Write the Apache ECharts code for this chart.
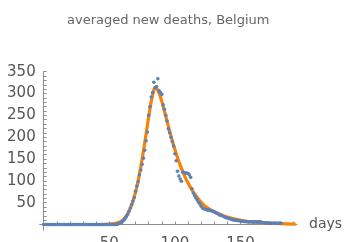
<!DOCTYPE html>
<html>
<head>
<meta charset="utf-8">
<script src="https://cdn.jsdelivr.net/npm/echarts@6/dist/echarts.min.js"></script>
<style>
  html, body { margin: 0; padding: 0; background: #fff; }
  #chart { width: 344px; height: 242px; }
</style>
</head>
<body>
<div id="chart"></div>
<script>
// averaged new deaths per day, day 0 .. 181
const firstDay = 0;
const avgDeaths = [
  0, 0, 0, 0, 0, 0, 0, 0, 0, 0,
  0, 0, 0, 0, 0, 0, 0, 0, 0, 0,
  0, 0, 0, 0, 0, 0, 0, 0, 0, 0,
  0, 0, 0, 0, 0, 0, 0, 0, 0, 0,
  0, 0, 0, 0, 0, 0, 0, 0, 0, 0,
  0, 0, 0, 0, 0, 0, 0.5, 1.5, 3, 5,
  7, 10, 14, 18, 23, 30, 38, 46, 54, 62,
  76, 88, 98, 114, 125, 138, 152, 170, 192, 212,
  250, 270, 292, 302, 326, 313, 316, 334, 306, 302,
  298, 274, 264, 250, 237, 219, 210, 200, 190, 180,
  162, 146, 122, 111, 104, 99, 120, 119, 118, 118,
  117, 114, 108, 82, 72, 66, 61, 56, 51, 47,
  42, 38, 36, 35, 34, 33, 33, 32, 31, 31,
  29, 27, 26, 24, 22, 21, 20, 19, 17, 16,
  15, 14, 13, 12, 11, 10.5, 10, 9.5, 9, 8.5,
  8, 7.5, 7, 7, 6.5, 6.5, 6, 6, 6.5, 6,
  6, 6, 6.5, 6, 6, 6.5, 5, 4.5, 4, 4,
  3.5, 3.5, 3.5, 3, 3, 3, 3.5, 3, 3, 3,
  3.5, 3
];

// fitted curve
const fitDays = [0, 40, 48, 52, 55, 58, 60, 62, 64, 66, 68, 70, 72, 74, 76, 78, 80, 82, 84, 85, 86,
  88, 90, 92, 94, 96, 98, 100, 102, 104, 106, 108, 110, 112, 114, 116, 118, 120, 122, 124,
  127, 130, 134, 137, 140, 145, 150, 155, 160, 165, 170, 180, 192];
const fitValues = [0, 0, 0.5, 1.5, 3, 6, 10, 16, 25, 37, 53, 74, 100, 132, 168, 207, 246, 282, 309, 314, 313,
  301, 282, 260, 237, 214, 192, 172, 153, 136, 121, 107, 95, 84, 74, 66, 58, 51, 45, 40,
  34, 29, 24, 20, 17, 13, 10, 7.5, 6, 4.5, 3.5, 2, 1];

const xTickLabels = [50, 100, 150];
const xTicks = [10, 20, 30, 40, 50, 60, 70, 80, 90, 100, 110, 120, 130, 140, 150, 160, 170, 180, 190];
const yTickLabels = [50, 100, 150, 200, 250, 300, 350];
const yTicks = [10, 20, 30, 40, 50, 60, 70, 80, 90, 100, 110, 120, 130, 140, 150, 160, 170, 180, 190,
  200, 210, 220, 230, 240, 250, 260, 270, 280, 290, 300, 310, 320, 330, 340, 350];

const fontFamily = 'DejaVu Sans';
const axisColor = '#8c8c8c';
const labelColor = '#555';

const myChart = echarts.init(document.getElementById('chart'));

myChart.setOption({
    animation: false,
    title: {
        text: 'averaged new deaths, Belgium',
        left: 62,
        top: 9,
        textStyle: { fontFamily: fontFamily, fontSize: 13, fontWeight: 'normal', color: '#666' }
    },
    grid: { left: 39.7, right: 47, top: 71.7, bottom: 11.8, outerBoundsMode: 'none' },
    xAxis: {
        type: 'value',
        min: -3,
        max: 193,
        name: 'days',
        nameLocation: 'end',
        nameGap: 12,
        nameTextStyle: { fontFamily: fontFamily, fontSize: 14, color: labelColor, verticalAlign: 'middle' },
        axisLine: { show: true, onZero: true, lineStyle: { color: axisColor, width: 1 } },
        axisTick: { show: true, inside: true, length: 3, customValues: xTicks, lineStyle: { color: axisColor } },
        axisLabel: { customValues: xTickLabels, margin: 6, fontFamily: fontFamily, fontSize: 15, color: labelColor },
        splitLine: { show: false }
    },
    yAxis: {
        type: 'value',
        min: -13,
        max: 350,
        axisLine: { show: true, onZero: true, lineStyle: { color: axisColor, width: 1 } },
        axisTick: { show: true, inside: true, length: 3, customValues: yTicks, lineStyle: { color: axisColor } },
        axisLabel: { customValues: yTickLabels, margin: 4, fontFamily: fontFamily, fontSize: 15, color: labelColor },
        splitLine: { show: false }
    },
    series: [
        {
            type: 'line',
            data: fitDays.map(function (d, i) { return [d, fitValues[i]]; }),
            showSymbol: false,
            smooth: 0.35,
            clip: false,
            lineStyle: { color: '#ff8000', width: 3.2 },
            z: 2
        },
        {
            type: 'scatter',
            data: avgDeaths.map(function (v, i) { return [firstDay + i, v]; }),
            symbolSize: 3.6,
            itemStyle: { color: '#5e81b5', opacity: 1 },
            z: 3
        }
    ]
});
</script>
</body>
</html>
